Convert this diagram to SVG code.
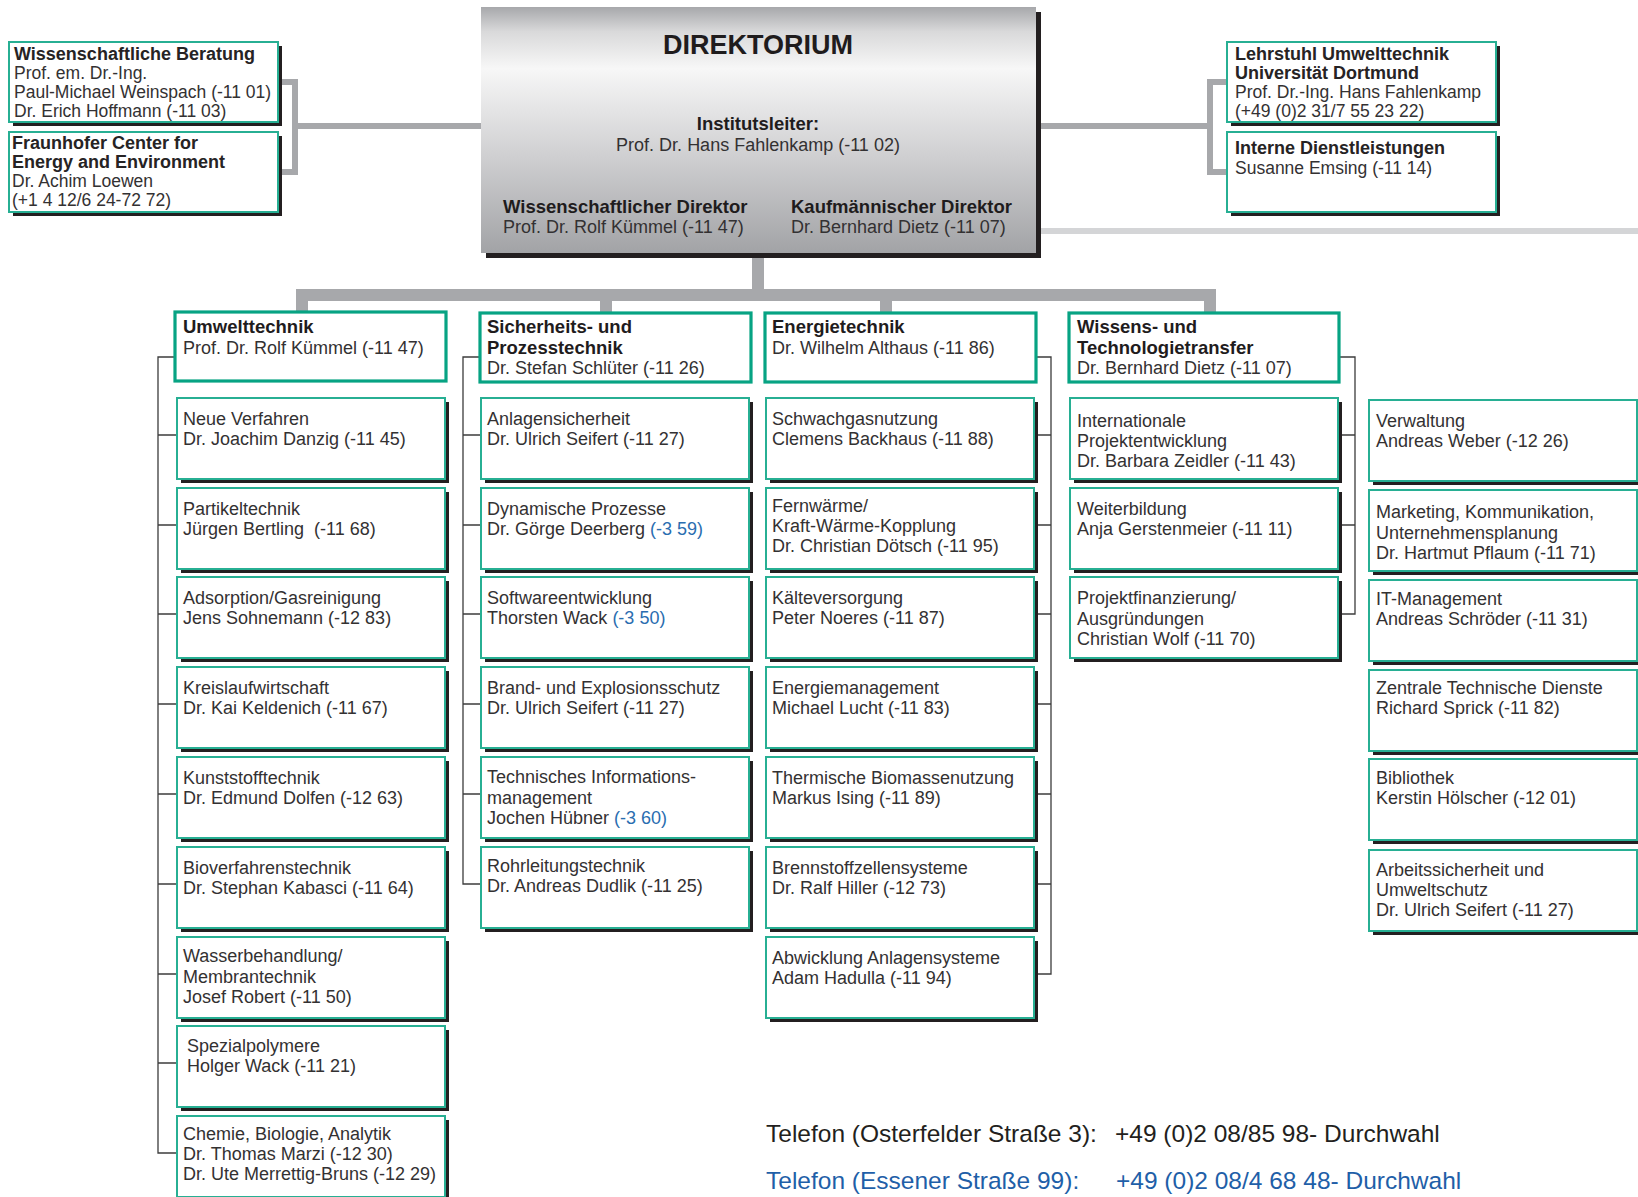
<svg xmlns="http://www.w3.org/2000/svg" width="1638" height="1197" viewBox="0 0 1638 1197">
<defs>
  <linearGradient id="dirGrad" x1="0" y1="0" x2="0" y2="1">
    <stop offset="0" stop-color="#a7a8ab"/>
    <stop offset="0.1" stop-color="#d9d9da"/>
    <stop offset="0.25" stop-color="#f7f7f7"/>
    <stop offset="0.6" stop-color="#d0d0d2"/>
    <stop offset="1" stop-color="#a2a3a6"/>
  </linearGradient>
  <style>
    text { font-family: "Liberation Sans", Arial, sans-serif; font-size: 18px; fill: #333132; }
    .b { font-weight: bold; font-size: 18.5px; fill: #1f1c1d; }
    .sm { font-size: 17.5px; }
    .sb { font-weight: bold; font-size: 18px; fill: #262324; }
    .blue { fill: #2a6db0; }
    .box { fill: #fff; stroke: #27af93; stroke-width: 2; }
    .hdr { fill: #fff; stroke: #07a383; stroke-width: 3.2; }
    .sh { fill: #231f20; }
    .gray { fill: none; stroke: #a7a8ab; stroke-linejoin: miter; }
    .thin { fill: none; stroke: #3c3c3c; stroke-width: 1.3; }
    .tel { font-size: 24.5px; fill: #231f20; }
    .telb { font-size: 24.5px; fill: #1f5fa8; }
  </style>
</defs>
<rect width="1638" height="1197" fill="#fff"/>

<!-- connectors -->
<g id="connectors">
  <!-- side units of the board -->
  <path class="gray" stroke-width="6" d="M281 82 H295 V172 H281 M295 126 H481"/>
  <path class="gray" stroke-width="6" d="M1227 82 H1210 V172 H1227 M1036 126 H1210"/>
  <path fill="none" stroke="#d4d5d7" stroke-width="6" d="M1041 231 H1638"/>
  <!-- stem and bus to departments -->
  <path class="gray" stroke-width="12" d="M758 253 V295"/>
  <path class="gray" stroke-width="12" d="M302 313 V295 H1210 V313"/>
  <path class="gray" stroke-width="12" d="M606 295 V313 M886 295 V313"/>
  <!-- Umwelttechnik -->
  <path class="thin" d="M175 357 H158 V1153 H177 M158 435 H177 M158 525 H177 M158 614 H177 M158 704 H177 M158 794 H177 M158 884 H177 M158 974 H177 M158 1063 H177"/>
  <!-- Sicherheits- und Prozesstechnik -->
  <path class="thin" d="M480 357 H463 V884 H481 M463 435 H481 M463 525 H481 M463 614 H481 M463 704 H481 M463 794 H481"/>
  <!-- Energietechnik -->
  <path class="thin" d="M1036 357 H1051 V974 H1034 M1051 435 H1034 M1051 525 H1034 M1051 614 H1034 M1051 704 H1034 M1051 794 H1034 M1051 884 H1034"/>
  <!-- Wissens- und Technologietransfer -->
  <path class="thin" d="M1339 357 H1355 V614 H1338 M1355 435 H1338 M1355 525 H1338"/>
</g>

<!-- board -->
<g id="direktorium">
  <rect class="sh" x="486" y="12" width="555" height="246"/>
  <rect x="481" y="7" width="555" height="246" fill="url(#dirGrad)"/>
  <text x="758" y="54" text-anchor="middle" style="font-weight:bold;font-size:27px;fill:#1f1c1d">DIREKTORIUM</text>
  <text class="b" x="758" y="130" text-anchor="middle">Institutsleiter:</text>
  <text x="758" y="151" text-anchor="middle">Prof. Dr. Hans Fahlenkamp (-11 02)</text>
  <text class="b" x="503" y="213">Wissenschaftlicher Direktor</text>
  <text x="503" y="233">Prof. Dr. Rolf Kümmel (-11 47)</text>
  <text class="b" x="791" y="213">Kaufmännischer Direktor</text>
  <text x="791" y="233">Dr. Bernhard Dietz (-11 07)</text>
</g>

<!-- side units -->
<g id="wiss-beratung">
  <rect class="sh" x="13" y="46" width="269" height="80"/>
  <rect class="box" x="9" y="42" width="269" height="80"/>
  <text class="sb" x="14" y="60">Wissenschaftliche Beratung</text>
  <text class="sm" x="14" y="79">Prof. em. Dr.-Ing.</text>
  <text class="sm" x="14" y="98">Paul-Michael Weinspach (-11 01)</text>
  <text class="sm" x="14" y="117">Dr. Erich Hoffmann (-11 03)</text>
</g>
<g id="fraunhofer-cee">
  <rect class="sh" x="13" y="136" width="269" height="80"/>
  <rect class="box" x="9" y="132" width="269" height="80"/>
  <text class="sb" x="12" y="149">Fraunhofer Center for</text>
  <text class="sb" x="12" y="168">Energy and Environment</text>
  <text class="sm" x="12" y="187">Dr. Achim Loewen</text>
  <text class="sm" x="12" y="206">(+1 4 12/6 24-72 72)</text>
</g>
<g id="lehrstuhl">
  <rect class="sh" x="1231" y="46" width="269" height="80"/>
  <rect class="box" x="1227" y="42" width="269" height="80"/>
  <text class="sb" x="1235" y="60">Lehrstuhl Umwelttechnik</text>
  <text class="sb" x="1235" y="79">Universität Dortmund</text>
  <text class="sm" x="1235" y="98">Prof. Dr.-Ing. Hans Fahlenkamp</text>
  <text class="sm" x="1235" y="117">(+49 (0)2 31/7 55 23 22)</text>
</g>
<g id="interne-dienste">
  <rect class="sh" x="1231" y="136" width="269" height="80"/>
  <rect class="box" x="1227" y="132" width="269" height="80"/>
  <text class="sb" x="1235" y="154">Interne Dienstleistungen</text>
  <text class="sm" x="1235" y="174">Susanne Emsing (-11 14)</text>
</g>

<!-- department heads -->
<g id="umwelttechnik">
  <rect class="hdr" x="175" y="312" width="271" height="69"/>
  <text class="b" x="183" y="333">Umwelttechnik</text>
  <text x="183" y="354">Prof. Dr. Rolf Kümmel (-11 47)</text>
</g>
<g id="sicherheitstechnik">
  <rect class="hdr" x="480" y="313" width="271" height="69"/>
  <text class="b" x="487" y="333">Sicherheits- und</text>
  <text class="b" x="487" y="353.5">Prozesstechnik</text>
  <text x="487" y="374">Dr. Stefan Schlüter (-11 26)</text>
</g>
<g id="energietechnik">
  <rect class="hdr" x="765" y="313" width="271" height="69"/>
  <text class="b" x="772" y="333">Energietechnik</text>
  <text x="772" y="354">Dr. Wilhelm Althaus (-11 86)</text>
</g>
<g id="technologietransfer">
  <rect class="hdr" x="1069" y="313" width="270" height="69"/>
  <text class="b" x="1077" y="333">Wissens- und</text>
  <text class="b" x="1077" y="353.5">Technologietransfer</text>
  <text x="1077" y="374">Dr. Bernhard Dietz (-11 07)</text>
</g>

<!-- Umwelttechnik groups -->
<g id="neue-verfahren">
  <rect class="sh" x="181" y="402" width="268" height="81"/><rect class="box" x="177" y="398" width="268" height="81"/>
  <text x="183" y="425">Neue Verfahren</text><text x="183" y="445">Dr. Joachim Danzig (-11 45)</text>
</g>
<g id="partikeltechnik">
  <rect class="sh" x="181" y="492" width="268" height="81"/><rect class="box" x="177" y="488" width="268" height="81"/>
  <text x="183" y="515">Partikeltechnik</text><text x="183" y="535">Jürgen Bertling&#160; (-11 68)</text>
</g>
<g id="adsorption">
  <rect class="sh" x="181" y="581" width="268" height="81"/><rect class="box" x="177" y="577" width="268" height="81"/>
  <text x="183" y="604">Adsorption/Gasreinigung</text><text x="183" y="624">Jens Sohnemann (-12 83)</text>
</g>
<g id="kreislaufwirtschaft">
  <rect class="sh" x="181" y="671" width="268" height="81"/><rect class="box" x="177" y="667" width="268" height="81"/>
  <text x="183" y="694">Kreislaufwirtschaft</text><text x="183" y="714">Dr. Kai Keldenich (-11 67)</text>
</g>
<g id="kunststofftechnik">
  <rect class="sh" x="181" y="761" width="268" height="81"/><rect class="box" x="177" y="757" width="268" height="81"/>
  <text x="183" y="784">Kunststofftechnik</text><text x="183" y="804">Dr. Edmund Dolfen (-12 63)</text>
</g>
<g id="bioverfahrenstechnik">
  <rect class="sh" x="181" y="851" width="268" height="81"/><rect class="box" x="177" y="847" width="268" height="81"/>
  <text x="183" y="874">Bioverfahrenstechnik</text><text x="183" y="894">Dr. Stephan Kabasci (-11 64)</text>
</g>
<g id="wasserbehandlung">
  <rect class="sh" x="181" y="941" width="268" height="81"/><rect class="box" x="177" y="937" width="268" height="81"/>
  <text x="183" y="962">Wasserbehandlung/</text><text x="183" y="982.5">Membrantechnik</text><text x="183" y="1003">Josef Robert (-11 50)</text>
</g>
<g id="spezialpolymere">
  <rect class="sh" x="181" y="1030" width="268" height="81"/><rect class="box" x="177" y="1026" width="268" height="81"/>
  <text x="187" y="1052">Spezialpolymere</text><text x="187" y="1072">Holger Wack (-11 21)</text>
</g>
<g id="chemie-biologie">
  <rect class="sh" x="181" y="1120" width="268" height="81"/><rect class="box" x="177" y="1116" width="268" height="81"/>
  <text x="183" y="1140">Chemie, Biologie, Analytik</text><text x="183" y="1160">Dr. Thomas Marzi (-12 30)</text><text x="183" y="1180">Dr. Ute Merrettig-Bruns (-12 29)</text>
</g>

<!-- Sicherheits- und Prozesstechnik groups -->
<g id="anlagensicherheit">
  <rect class="sh" x="485" y="402" width="268" height="81"/><rect class="box" x="481" y="398" width="268" height="81"/>
  <text x="487" y="425">Anlagensicherheit</text><text x="487" y="445">Dr. Ulrich Seifert (-11 27)</text>
</g>
<g id="dynamische-prozesse">
  <rect class="sh" x="485" y="492" width="268" height="81"/><rect class="box" x="481" y="488" width="268" height="81"/>
  <text x="487" y="515">Dynamische Prozesse</text><text x="487" y="535">Dr. Görge Deerberg <tspan class="blue">(-3 59)</tspan></text>
</g>
<g id="softwareentwicklung">
  <rect class="sh" x="485" y="581" width="268" height="81"/><rect class="box" x="481" y="577" width="268" height="81"/>
  <text x="487" y="604">Softwareentwicklung</text><text x="487" y="624">Thorsten Wack <tspan class="blue">(-3 50)</tspan></text>
</g>
<g id="explosionsschutz">
  <rect class="sh" x="485" y="671" width="268" height="81"/><rect class="box" x="481" y="667" width="268" height="81"/>
  <text x="487" y="694">Brand- und Explosionsschutz</text><text x="487" y="714">Dr. Ulrich Seifert (-11 27)</text>
</g>
<g id="informationsmanagement">
  <rect class="sh" x="485" y="761" width="268" height="81"/><rect class="box" x="481" y="757" width="268" height="81"/>
  <text x="487" y="783">Technisches Informations-</text><text x="487" y="803.5">management</text><text x="487" y="824">Jochen Hübner <tspan class="blue">(-3 60)</tspan></text>
</g>
<g id="rohrleitungstechnik">
  <rect class="sh" x="485" y="851" width="268" height="81"/><rect class="box" x="481" y="847" width="268" height="81"/>
  <text x="487" y="872">Rohrleitungstechnik</text><text x="487" y="892">Dr. Andreas Dudlik (-11 25)</text>
</g>

<!-- Energietechnik groups -->
<g id="schwachgasnutzung">
  <rect class="sh" x="770" y="402" width="268" height="81"/><rect class="box" x="766" y="398" width="268" height="81"/>
  <text x="772" y="425">Schwachgasnutzung</text><text x="772" y="445">Clemens Backhaus (-11 88)</text>
</g>
<g id="fernwaerme">
  <rect class="sh" x="770" y="492" width="268" height="81"/><rect class="box" x="766" y="488" width="268" height="81"/>
  <text x="772" y="512">Fernwärme/</text><text x="772" y="532">Kraft-Wärme-Kopplung</text><text x="772" y="552">Dr. Christian Dötsch (-11 95)</text>
</g>
<g id="kaelteversorgung">
  <rect class="sh" x="770" y="581" width="268" height="81"/><rect class="box" x="766" y="577" width="268" height="81"/>
  <text x="772" y="604">Kälteversorgung</text><text x="772" y="624">Peter Noeres (-11 87)</text>
</g>
<g id="energiemanagement">
  <rect class="sh" x="770" y="671" width="268" height="81"/><rect class="box" x="766" y="667" width="268" height="81"/>
  <text x="772" y="694">Energiemanagement</text><text x="772" y="714">Michael Lucht (-11 83)</text>
</g>
<g id="biomassenutzung">
  <rect class="sh" x="770" y="761" width="268" height="81"/><rect class="box" x="766" y="757" width="268" height="81"/>
  <text x="772" y="784">Thermische Biomassenutzung</text><text x="772" y="804">Markus Ising (-11 89)</text>
</g>
<g id="brennstoffzellen">
  <rect class="sh" x="770" y="851" width="268" height="81"/><rect class="box" x="766" y="847" width="268" height="81"/>
  <text x="772" y="874">Brennstoffzellensysteme</text><text x="772" y="894">Dr. Ralf Hiller (-12 73)</text>
</g>
<g id="anlagensysteme">
  <rect class="sh" x="770" y="941" width="268" height="81"/><rect class="box" x="766" y="937" width="268" height="81"/>
  <text x="772" y="964">Abwicklung Anlagensysteme</text><text x="772" y="984">Adam Hadulla (-11 94)</text>
</g>

<!-- Wissens- und Technologietransfer groups -->
<g id="projektentwicklung">
  <rect class="sh" x="1074" y="402" width="268" height="81"/><rect class="box" x="1070" y="398" width="268" height="81"/>
  <text x="1077" y="427">Internationale</text><text x="1077" y="447">Projektentwicklung</text><text x="1077" y="467">Dr. Barbara Zeidler (-11 43)</text>
</g>
<g id="weiterbildung">
  <rect class="sh" x="1074" y="492" width="268" height="81"/><rect class="box" x="1070" y="488" width="268" height="81"/>
  <text x="1077" y="515">Weiterbildung</text><text x="1077" y="535">Anja Gerstenmeier (-11 11)</text>
</g>
<g id="projektfinanzierung">
  <rect class="sh" x="1074" y="581" width="268" height="81"/><rect class="box" x="1070" y="577" width="268" height="81"/>
  <text x="1077" y="604">Projektfinanzierung/</text><text x="1077" y="624.5">Ausgründungen</text><text x="1077" y="645">Christian Wolf (-11 70)</text>
</g>

<!-- central services -->
<g id="verwaltung">
  <rect class="sh" x="1373" y="404" width="268" height="81"/><rect class="box" x="1369" y="400" width="268" height="81"/>
  <text x="1376" y="427">Verwaltung</text><text x="1376" y="447">Andreas Weber (-12 26)</text>
</g>
<g id="marketing">
  <rect class="sh" x="1373" y="494" width="268" height="81"/><rect class="box" x="1369" y="490" width="268" height="81"/>
  <text x="1376" y="518">Marketing, Kommunikation,</text><text x="1376" y="538.5">Unternehmensplanung</text><text x="1376" y="559">Dr. Hartmut Pflaum (-11 71)</text>
</g>
<g id="it-management">
  <rect class="sh" x="1373" y="584" width="268" height="81"/><rect class="box" x="1369" y="580" width="268" height="81"/>
  <text x="1376" y="605">IT-Management</text><text x="1376" y="625">Andreas Schröder (-11 31)</text>
</g>
<g id="technische-dienste">
  <rect class="sh" x="1373" y="674" width="268" height="81"/><rect class="box" x="1369" y="670" width="268" height="81"/>
  <text x="1376" y="694">Zentrale Technische Dienste</text><text x="1376" y="714">Richard Sprick (-11 82)</text>
</g>
<g id="bibliothek">
  <rect class="sh" x="1373" y="763" width="268" height="81"/><rect class="box" x="1369" y="759" width="268" height="81"/>
  <text x="1376" y="784">Bibliothek</text><text x="1376" y="804">Kerstin Hölscher (-12 01)</text>
</g>
<g id="arbeitssicherheit">
  <rect class="sh" x="1373" y="854" width="268" height="81"/><rect class="box" x="1369" y="850" width="268" height="81"/>
  <text x="1376" y="876">Arbeitssicherheit und</text><text x="1376" y="896">Umweltschutz</text><text x="1376" y="916">Dr. Ulrich Seifert (-11 27)</text>
</g>

<!-- phone numbers -->
<g id="telefon">
  <text class="tel" x="766" y="1142">Telefon (Osterfelder Straße 3):</text>
  <text class="tel" x="1115" y="1142">+49 (0)2 08/85 98- Durchwahl</text>
  <text class="telb" x="766" y="1189">Telefon (Essener Straße 99):</text>
  <text class="telb" x="1116" y="1189">+49 (0)2 08/4 68 48- Durchwahl</text>
</g>
</svg>
